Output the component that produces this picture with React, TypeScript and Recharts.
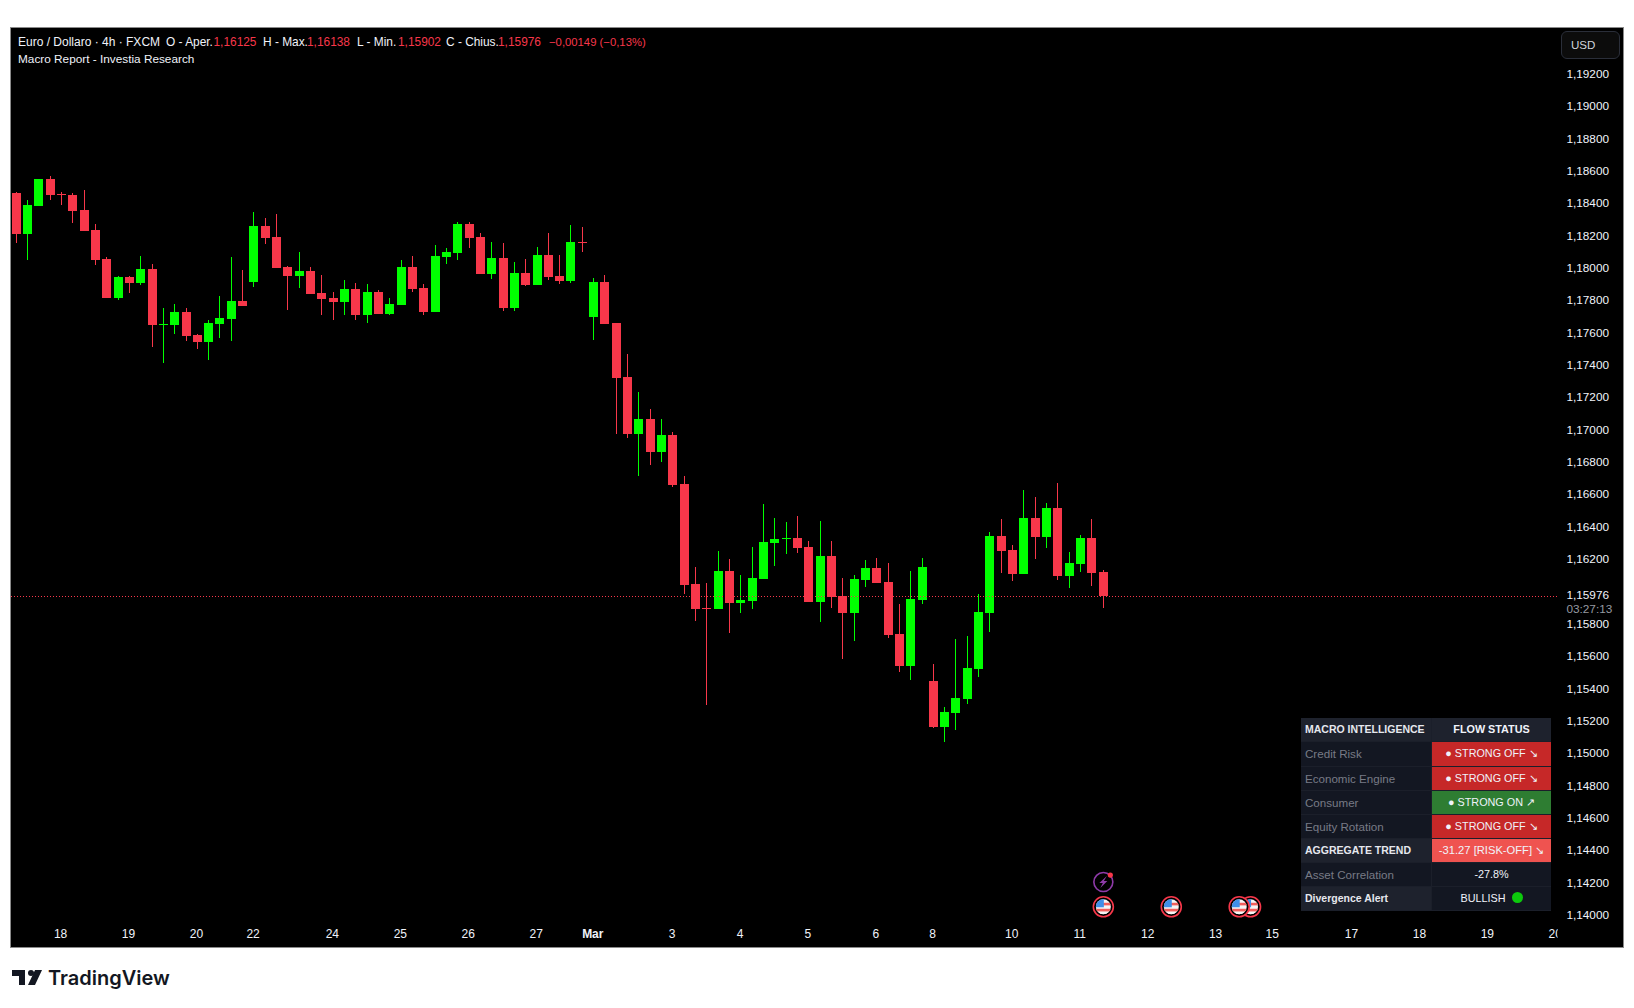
import { Bar, ComposedChart, ReferenceDot, ReferenceLine, XAxis, YAxis } from 'recharts';

// 4h EUR/USD candles
const opens = [
  1.1847, 1.18217, 1.1839, 1.18557, 1.18464, 1.18458, 1.18365, 1.18242, 1.18062, 1.17821,
  1.17951, 1.17914, 1.18, 1.17654, 1.17654, 1.17735, 1.17592, 1.17549, 1.1766, 1.17691,
  1.17803, 1.1792, 1.18266, 1.18198, 1.18013, 1.17957, 1.17988, 1.17852, 1.17821, 1.17796,
  1.17877, 1.17716, 1.17858, 1.17722, 1.17778, 1.18013, 1.17883, 1.17735, 1.18075, 1.18099,
  1.18279, 1.18198, 1.1797, 1.18068, 1.17759, 1.17976, 1.17902, 1.18087, 1.17957, 1.17926,
  1.18167, 1.17704, 1.1792, 1.17667, 1.17333, 1.1698, 1.17073, 1.16869, 1.16974, 1.16671,
  1.16053, 1.15904, 1.15898, 1.16133, 1.15935, 1.15948, 1.16084, 1.16306, 1.16331, 1.16337,
  1.16282, 1.15942, 1.16226, 1.15979, 1.15873, 1.16078, 1.16152, 1.16065, 1.15744, 1.15546,
  1.15954, 1.15453, 1.15169, 1.15255, 1.15342, 1.15527, 1.15873, 1.1635, 1.16263, 1.16115,
  1.16461, 1.16343, 1.16523, 1.16102, 1.16176, 1.16337, 1.16125,
];
const highs = [
  1.18477, 1.18427, 1.18557, 1.18575, 1.18477, 1.1847, 1.18489, 1.18279, 1.18075, 1.17957,
  1.17957, 1.18081, 1.18031, 1.17759, 1.17784, 1.17759, 1.17599, 1.17685, 1.17834, 1.18075,
  1.17994, 1.18353, 1.18316, 1.18341, 1.18019, 1.18106, 1.18013, 1.17963, 1.17858, 1.17933,
  1.17914, 1.17908, 1.17871, 1.17821, 1.18056, 1.18081, 1.17908, 1.18149, 1.1813, 1.18291,
  1.18291, 1.18223, 1.18167, 1.18161, 1.18044, 1.18062, 1.18136, 1.18223, 1.18087, 1.18273,
  1.1826, 1.17945, 1.17963, 1.17667, 1.17475, 1.1724, 1.17135, 1.17073, 1.16993, 1.16721,
  1.16158, 1.16059, 1.16257, 1.16207, 1.16109, 1.16282, 1.16548, 1.16461, 1.16436, 1.16473,
  1.16319, 1.16442, 1.16319, 1.1609, 1.16108, 1.16201, 1.16214, 1.16183, 1.15929, 1.16133,
  1.16214, 1.15558, 1.15292, 1.15713, 1.15731, 1.15991, 1.16374, 1.16455, 1.16294, 1.16634,
  1.16591, 1.16554, 1.16677, 1.16251, 1.16356, 1.16455, 1.16138,
];
const lows = [
  1.18161, 1.18056, 1.1839, 1.18427, 1.18396, 1.18285, 1.18235, 1.18025, 1.17821, 1.17809,
  1.17852, 1.17902, 1.17518, 1.17419, 1.17599, 1.17555, 1.17506, 1.17438, 1.17574, 1.17555,
  1.17772, 1.17889, 1.18155, 1.18007, 1.17747, 1.17883, 1.17846, 1.17716, 1.17685, 1.17716,
  1.17685, 1.17667, 1.17722, 1.17716, 1.17778, 1.17858, 1.17716, 1.17735, 1.18031, 1.18056,
  1.1813, 1.1797, 1.17939, 1.17741, 1.17741, 1.17895, 1.17902, 1.17933, 1.17908, 1.17914,
  1.18106, 1.17561, 1.1766, 1.1698, 1.16956, 1.16721, 1.16789, 1.16807, 1.16653, 1.15991,
  1.15824, 1.15305, 1.15898, 1.1575, 1.15874, 1.15898, 1.16084, 1.16164, 1.16238, 1.16244,
  1.15942, 1.15818, 1.15904, 1.15589, 1.157, 1.16034, 1.16059, 1.15719, 1.15509, 1.15459,
  1.15929, 1.15162, 1.15076, 1.1515, 1.15311, 1.15478, 1.15756, 1.16121, 1.16071, 1.16115,
  1.16207, 1.16275, 1.16078, 1.16028, 1.16127, 1.1604, 1.15902,
];
const closes = [
  1.18217, 1.18396, 1.18557, 1.18458, 1.18458, 1.18359, 1.18235, 1.18056, 1.17821, 1.17951,
  1.17914, 1.18, 1.17654, 1.1766, 1.17735, 1.17586, 1.17549, 1.17667, 1.17698, 1.17803,
  1.17772, 1.18266, 1.18192, 1.18007, 1.17957, 1.17988, 1.17846, 1.17815, 1.17796, 1.17877,
  1.17716, 1.17858, 1.17722, 1.17784, 1.18013, 1.17877, 1.17735, 1.18081, 1.18106, 1.18279,
  1.18192, 1.1797, 1.18068, 1.17759, 1.17976, 1.17902, 1.18087, 1.17951, 1.17926, 1.18167,
  1.18161, 1.1792, 1.1766, 1.17326, 1.1698, 1.17073, 1.16869, 1.16974, 1.16665, 1.16047,
  1.15898, 1.15898, 1.16133, 1.15935, 1.15954, 1.1609, 1.16313, 1.16331, 1.16337, 1.16275,
  1.15942, 1.16226, 1.15972, 1.15873, 1.16084, 1.16152, 1.16059, 1.15737, 1.15546, 1.1596,
  1.16158, 1.15169, 1.15261, 1.15348, 1.15533, 1.1588, 1.1635, 1.16257, 1.16115, 1.16461,
  1.16343, 1.16523, 1.16102, 1.16183, 1.16337, 1.16121, 1.15976,
];

const lastPrice = 1.15976;
const priceTicks = [
  1.192, 1.19, 1.188, 1.186, 1.184, 1.182, 1.18, 1.178, 1.176, 1.174, 1.172, 1.17, 1.168, 1.166,
  1.164, 1.162, 1.15976, 1.158, 1.156, 1.154, 1.152, 1.15, 1.148, 1.146, 1.144, 1.142, 1.14,
];
const timeSlots = [4, 10, 16, 21, 28, 34, 40, 46, 51, 58, 64, 70, 76, 81, 88, 94, 100, 106, 111, 118, 124, 130, 136];
const timeLabels = ['18', '19', '20', '22', '24', '25', '26', '27', 'Mar', '3', '4', '5', '6', '8', '10', '11', '12', '13', '15', '17', '18', '19', '20'];
const flagSlots = [109, 108, 102, 96];

const tableRows = [
  { label: 'MACRO INTELLIGENCE', value: 'FLOW STATUS', bold: true, bg: '#1e222d', left: '#1e222d' },
  { label: 'Credit Risk', value: '● STRONG OFF ↘', bg: '#c62828' },
  { label: 'Economic Engine', value: '● STRONG OFF ↘', bg: '#c62828' },
  { label: 'Consumer', value: '● STRONG ON ↗', bg: '#2e7d32' },
  { label: 'Equity Rotation', value: '● STRONG OFF ↘', bg: '#c62828' },
  { label: 'AGGREGATE TREND', value: '-31.27 [RISK-OFF] ↘', bold: true, bg: '#ef5350', left: '#1e222d' },
  { label: 'Asset Correlation', value: '-27.8%', bg: '#131722' },
  { label: 'Divergence Alert', value: 'BULLISH', bold: true, bg: '#131722', left: '#1e222d', dot: true },
];

const candles = opens.map((open, i) => ({
  slot: i,
  open,
  high: highs[i],
  low: lows[i],
  close: closes[i],
  range: [lows[i], highs[i]],
}));

const UP = '#00ff00';
const DOWN = '#f7374a';
const FONT = '"Liberation Sans", sans-serif';

const Candle = (props: any) => {
  const { x, y, width, height, payload } = props;
  const { open, high, low, close } = payload;
  const color = close >= open ? UP : DOWN;
  const k = height / (high - low);
  const top = Math.round(y + (high - Math.max(open, close)) * k);
  const bottom = Math.round(y + (high - Math.min(open, close)) * k);
  const left = Math.round(x + width / 2 - 4.5);
  return (
    <g shapeRendering="crispEdges">
      <rect x={left + 4} y={Math.round(y)} width={1} height={Math.max(Math.round(height), 1)} fill={color} />
      <rect x={left} y={top} width={9} height={Math.max(bottom - top, 1)} fill={color} />
    </g>
  );
};

const PriceTick = (props: any) => {
  const { x, y, payload } = props;
  const label = payload.value.toFixed(5).replace('.', ',');
  return (
    <g>
      <text x={x - 1} y={y + 3} fill="#f0f3fa" fontSize={11.8} fontFamily={FONT}>{label}</text>
      {payload.value === lastPrice && (
        <text x={x - 1} y={y + 17} fill="#9598a1" fontSize={11.8} fontFamily={FONT}>03:27:13</text>
      )}
    </g>
  );
};

const TimeTick = (props: any) => {
  const { x, y, payload } = props;
  const label = timeLabels[timeSlots.indexOf(payload.value)];
  return (
    <g>
      <clipPath id={`time-clip-${payload.value}`}>
        <rect x={0} y={900} width={1557.7} height={60} />
      </clipPath>
      <text
        x={x - 1}
        y={y + 13}
        textAnchor="middle"
        fill="#f0f3fa"
        fontSize={12}
        fontWeight={label === 'Mar' ? 700 : 400}
        fontFamily={FONT}
        clipPath={`url(#time-clip-${payload.value})`}
      >
        {label}
      </text>
    </g>
  );
};

const FlagMarker = (props: any) => {
  const { cx, cy } = props;
  const id = `flag-${Math.round(cx)}`;
  return (
    <g>
      <clipPath id={id}>
        <circle cx={cx} cy={cy} r={7.5} />
      </clipPath>
      <circle cx={cx} cy={cy} r={10} fill="#000" stroke={DOWN} strokeWidth={1.6} />
      <g clipPath={`url(#${id})`}>
        <rect x={cx - 8} y={cy - 8} width={16} height={16} fill="#f5f5f5" />
        <rect x={cx - 8} y={cy - 4} width={16} height={2.6} fill="#f25f5c" />
        <rect x={cx - 8} y={cy + 2} width={16} height={2.8} fill="#f25f5c" />
        <rect x={cx - 8} y={cy + 5} width={16} height={3} fill="#f5f5f5" />
        <rect x={cx - 8} y={cy - 8} width={8.5} height={8.5} fill="#3f8fe8" />
      </g>
    </g>
  );
};

const BoltMarker = (props: any) => {
  const { cx, cy } = props;
  return (
    <g>
      <circle cx={cx} cy={cy} r={9.5} fill="#000" stroke="#8e3aa8" strokeWidth={1.6} />
      <path
        d={`M${cx + 3.5} ${cy - 6} L${cx - 4} ${cy + 1} L${cx - 0.5} ${cy + 1} L${cx - 3} ${cy + 6} L${cx + 4} ${cy - 1} L${cx + 0.5} ${cy - 1} Z`}
        fill="#8e3aa8"
      />
      <circle cx={cx + 7} cy={cy - 7} r={2.6} fill={DOWN} />
    </g>
  );
};

const headerText = (left: number, top: number, text: string, color = '#f0f3fa', fontSize = 11.9) => (
  <span
    style={{
      position: 'absolute',
      left,
      top,
      color,
      fontSize,
      lineHeight: '14px',
      fontFamily: FONT,
      whiteSpace: 'nowrap',
    }}
  >
    {text}
  </span>
);

const App = () => (
  <div style={{ position: 'absolute', left: 0, top: 0, width: 1634, height: 1008, background: '#fff', overflow: 'hidden' }}>
    <div
      style={{
        position: 'absolute',
        left: 10,
        top: 27,
        width: 1612,
        height: 919,
        background: '#000',
        border: '1px solid #8a8a8a',
      }}
    />
    <div style={{ position: 'absolute', left: 0, top: 0 }}>
      <ComposedChart
        width={1634}
        height={1008}
        data={candles}
        margin={{ top: 28, right: 0, bottom: 61, left: 10.66 }}
      >
        <XAxis
          dataKey="slot"
          type="number"
          domain={[-0.5, 136.1]}
          ticks={timeSlots}
          interval={0}
          allowDataOverflow
          height={22}
          axisLine={false}
          tickLine={false}
          tickSize={0}
          tickMargin={0}
          tick={<TimeTick />}
        />
        <YAxis
          orientation="right"
          domain={[1.139443, 1.194906]}
          ticks={priceTicks}
          interval={0}
          allowDataOverflow
          width={76.6}
          axisLine={false}
          tickLine={false}
          tickSize={0}
          tickMargin={10}
          tick={<PriceTick />}
        />
        <ReferenceLine y={lastPrice} stroke={DOWN} strokeDasharray="1 2" strokeWidth={1} shapeRendering="crispEdges" />
        <Bar dataKey="range" barSize={9} shape={<Candle />} isAnimationActive={false} />
        {flagSlots.map((slot) => (
          <ReferenceDot key={slot} x={slot} y={1.14057} r={10} shape={<FlagMarker />} />
        ))}
        <ReferenceDot x={96} y={1.1421} r={10} shape={<BoltMarker />} />
      </ComposedChart>
    </div>

    {headerText(18, 35, 'Euro / Dollaro · 4h · FXCM', '#f0f3fa', 12)}
    {headerText(166, 35, 'O - Aper.')}
    {headerText(213.5, 35, '1,16125', DOWN)}
    {headerText(263, 35, 'H - Max.')}
    {headerText(307, 35, '1,16138', DOWN)}
    {headerText(357, 35, 'L - Min.')}
    {headerText(398, 35, '1,15902', DOWN)}
    {headerText(446, 35, 'C - Chius.')}
    {headerText(498, 35, '1,15976', DOWN)}
    {headerText(549, 35, '−0,00149 (−0,13%)', DOWN, 11.3)}
    {headerText(18, 52, 'Macro Report - Investia Research', '#f0f3fa', 11.8)}

    <div
      style={{
        position: 'absolute',
        left: 1561,
        top: 31,
        width: 48,
        height: 26,
        border: '1px solid #2a2e39',
        borderRadius: 6,
        background: '#0c0c0c',
        color: '#d1d4dc',
        fontSize: 11.6,
        lineHeight: '26px',
        fontFamily: FONT,
        paddingLeft: 9,
        boxSizing: 'content-box',
      }}
    >
      USD
    </div>

    <div style={{ position: 'absolute', left: 1301, top: 718.4, width: 250, fontFamily: FONT, fontSize: 11.6 }}>
      {tableRows.map((row) => (
        <div key={row.label} style={{ display: 'flex', height: 24.08, boxSizing: 'border-box', borderBottom: '1px solid #1b1f2a' }}>
          <div
            style={{
              width: 131,
              boxSizing: 'border-box',
              paddingLeft: 4,
              lineHeight: '23px',
              background: row.left ?? '#131722',
              color: row.bold ? '#e6e8ee' : '#787b86',
              fontWeight: row.bold ? 700 : 400,
              fontSize: row.bold ? 10.5 : 11.6,
              borderRight: '1px solid #1b1f2a',
              whiteSpace: 'nowrap',
            }}
          >
            {row.label}
          </div>
          <div
            style={{
              width: 119,
              textAlign: 'center',
              lineHeight: '23px',
              background: row.bg,
              color: '#f0f3fa',
              fontSize: row.bg === '#ef5350' ? 11.2 : 10.8,
              fontWeight: row.bold && !row.dot && row.bg === '#1e222d' ? 700 : 400,
              whiteSpace: 'nowrap',
            }}
          >
            {row.value}
            {row.dot && (
              <span
                style={{
                  display: 'inline-block',
                  width: 11,
                  height: 11,
                  borderRadius: '50%',
                  background: '#0cc90c',
                  marginLeft: 6,
                  verticalAlign: -1,
                }}
              />
            )}
          </div>
        </div>
      ))}
    </div>

    <svg style={{ position: 'absolute', left: 12, top: 970 }} width={31} height={16}>
      <path d="M0 0 H13 V15 H7 V6 H0 Z" fill="#131722" />
      <circle cx={19} cy={3} r={3} fill="#131722" />
      <path d="M23 0 H30 L23 15 H16 Z" fill="#131722" />
    </svg>
    <span
      style={{
        position: 'absolute',
        left: 48,
        top: 964,
        fontFamily: 'Inter, sans-serif',
        fontSize: 20,
        fontWeight: 600,
        lineHeight: '28px',
        color: '#131722',
      }}
    >
      TradingView
    </span>
  </div>
);

export default App;
